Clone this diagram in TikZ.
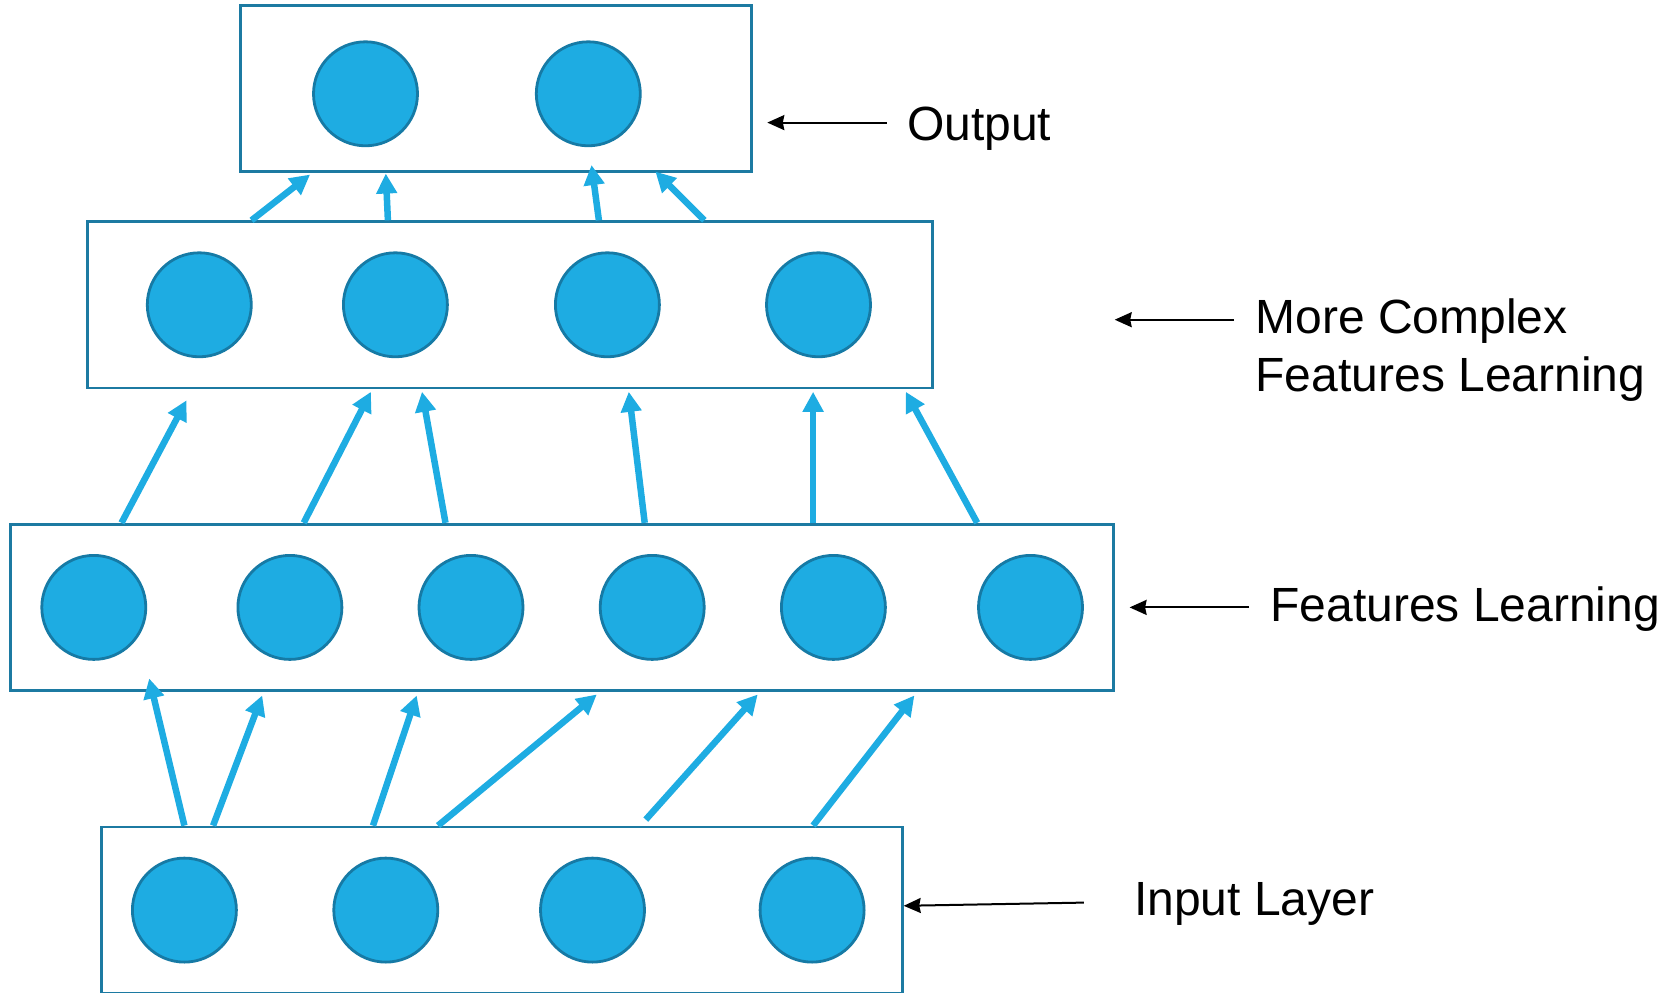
\documentclass[tikz,border=0pt]{standalone}
\usepackage{fontspec}
\setmainfont{Liberation Sans}
\usetikzlibrary{arrows.meta,calc}

\definecolor{neufill}{RGB}{30,172,226}
\definecolor{neuedge}{RGB}{22,122,165}
\definecolor{boxedge}{RGB}{28,122,162}
\definecolor{flowcol}{RGB}{30,172,226}

\tikzset{
  neuron/.style={circle, fill=neufill, draw=neuedge, line width=2.8pt,
                 minimum size=104pt, inner sep=0pt},
  layerbox/.style={rectangle, draw=boxedge, line width=2.8pt, fill=white,
                   inner sep=0pt},
  flow/.style={draw=flowcol, line width=6.5pt,
               -{Triangle[length=20pt,width=20pt]}},
  tag/.style={draw=black, line width=2pt,
              -{Stealth[length=17pt,width=15pt,inset=1.5pt]}},
  caption/.style={inner sep=0pt, font=\fontsize{48}{57.5}\selectfont,
                  anchor=base west, align=left},
}

% tail on the top edge of one layer, head near the bottom edge of the next
\newcommand\rise[5]{%
  \draw[flow] (#2,0 |- #1.north) -- ($(#4,0 |- #3.south)+(0,#5)$);}

\begin{document}
\begin{tikzpicture}[x=1pt, y=-1pt]
\useasboundingbox (0,0) rectangle (1671,993);

% layer boxes
\node[layerbox, minimum width=510.5pt, minimum height=166.3pt] (outbox) at (496,88.5) {};
\node[layerbox, minimum width=845.1pt, minimum height=166.2pt] (cbox)   at (510,304.8) {};
\node[layerbox, minimum width=1103pt,  minimum height=166.3pt] (fbox)   at (562.2,607.4) {};
\node[layerbox, minimum width=801.4pt, minimum height=166pt]   (inbox)  at (501.9,910) {};

% neurons
\node[neuron] (o1) at (365.5,93.8) {};
\node[neuron] (o2) at (588.3,93.8) {};

\node[neuron] (c1) at (199.3,304.8) {};
\node[neuron] (c2) at (395.4,304.8) {};
\node[neuron] (c3) at (607.4,304.8) {};
\node[neuron] (c4) at (818.5,304.8) {};

\node[neuron] (f1) at (93.8,607.4) {};
\node[neuron] (f2) at (289.9,607.4) {};
\node[neuron] (f3) at (471.0,607.4) {};
\node[neuron] (f4) at (652.2,607.4) {};
\node[neuron] (f5) at (833.4,607.4) {};
\node[neuron] (f6) at (1030.5,607.4) {};

\node[neuron] (i1) at (184.4,910.1) {};
\node[neuron] (i2) at (385.8,910.1) {};
\node[neuron] (i3) at (592.5,910.1) {};
\node[neuron] (i4) at (812.1,910.1) {};

% input -> features learning
\rise{inbox}{184.4}{fbox}{149.2}{-13.5}
\rise{inbox}{213.1}{fbox}{262.2}{3.5}
\rise{inbox}{373.0}{fbox}{416.7}{3.5}
\rise{inbox}{438.0}{fbox}{596.8}{2.5}
\draw[flow] ($(645.8,0 |- inbox.north)+(0,-6)$) -- ($(757.7,0 |- fbox.south)+(0,2.5)$);
\rise{inbox}{813.1}{fbox}{914.4}{3.5}

% features learning -> more complex features
\rise{fbox}{121.5}{cbox}{186.5}{11}
\rise{fbox}{303.7}{cbox}{370.9}{2.5}
\rise{fbox}{445.5}{cbox}{422.0}{2.5}
\rise{fbox}{644.7}{cbox}{628.8}{2.5}
\rise{fbox}{813.1}{cbox}{813.1}{2.5}
\rise{fbox}{977.2}{cbox}{905.8}{2.5}

% more complex features -> output
\rise{cbox}{251.5}{outbox}{310.1}{1.5}
\rise{cbox}{387.9}{outbox}{385.8}{0.5}
\rise{cbox}{598.9}{outbox}{591.5}{-8}
\rise{cbox}{704.4}{outbox}{655.4}{-1.5}

% captions
\node[caption] (tout) at (906.9,140.7) {Output};
\node[caption] (tcx)  at (1255.4,391.1) {More Complex\\Features Learning};
\node[caption] (tfl)  at (1270.3,621.3) {Features Learning};
\node[caption] (tin)  at (1133.9,915.4) {Input Layer};

\coordinate (hout) at (767.3,122.6);
\coordinate (hcx)  at (1114.7,319.7);
\coordinate (hfl)  at (1129.6,607.4);
\coordinate (hin)  at (903.7,905.8);

\draw[tag] (886.7,0 |- hout) -- (hout);
\draw[tag] (1234.1,0 |- hcx) -- (hcx);
\draw[tag] (1249.0,0 |- hfl) -- (hfl);
\draw[tag] (1083.8,902.6) -- (hin);
\end{tikzpicture}
\end{document}
